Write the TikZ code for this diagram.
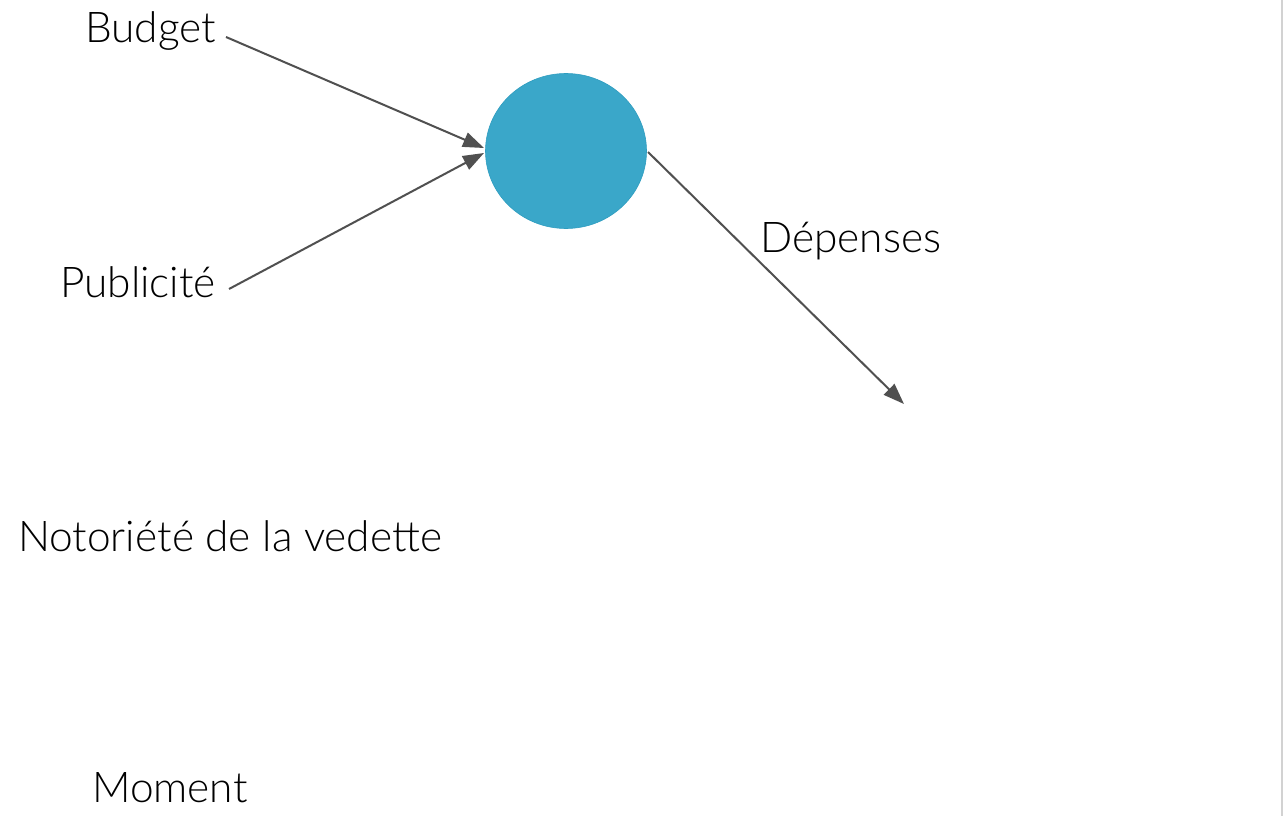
\documentclass[tikz,border=0pt]{standalone}
\usepackage{fontspec}
\setmainfont{Lato Light}
\usetikzlibrary{arrows.meta,shapes.geometric}
\definecolor{bub}{HTML}{3AA7C9}
\definecolor{bubedge}{HTML}{2E9DC0}
\definecolor{arr}{HTML}{505050}
\begin{document}
\begin{tikzpicture}[x=1pt,y=-1pt,
  lbl/.style={anchor=base west,inner sep=0pt,font=\fontsize{42.4}{48}\selectfont,text=black},
  link/.style={draw=arr,line width=2pt,-{Triangle[length=21pt,width=15pt]}}]
\useasboundingbox (0,0) rectangle (1283,816);
\fill[white] (0,0) rectangle (1283,816);
\draw[gray!35,line width=1.2pt] (1282,0) -- (1282,816);
\node[draw=bubedge,fill=bub,ellipse,minimum width=161pt,minimum height=155pt,inner sep=0pt,line width=0.6pt] (circ) at (566,151) {};
\node[lbl] (budget) at (85,43) {Budget};
\node[lbl] (pub) at (60,297) {Publicité};
\node[lbl] (dep) at (760,252) {Dépenses};
\node[lbl] (noto) at (18,551) {Notoriété de la vedette};
\node[lbl] (moment) at (92,802) {Moment};
\coordinate (b0) at (226,37);
\coordinate (b1) at (484,148);
\coordinate (p0) at (229,289);
\coordinate (p1) at (484,153);
\coordinate (d0) at (648,152);
\coordinate (d1) at (904,404);
\draw[link] (b0) -- (b1);
\draw[link] (p0) -- (p1);
\draw[link] (d0) -- (d1);
\end{tikzpicture}
\end{document}
